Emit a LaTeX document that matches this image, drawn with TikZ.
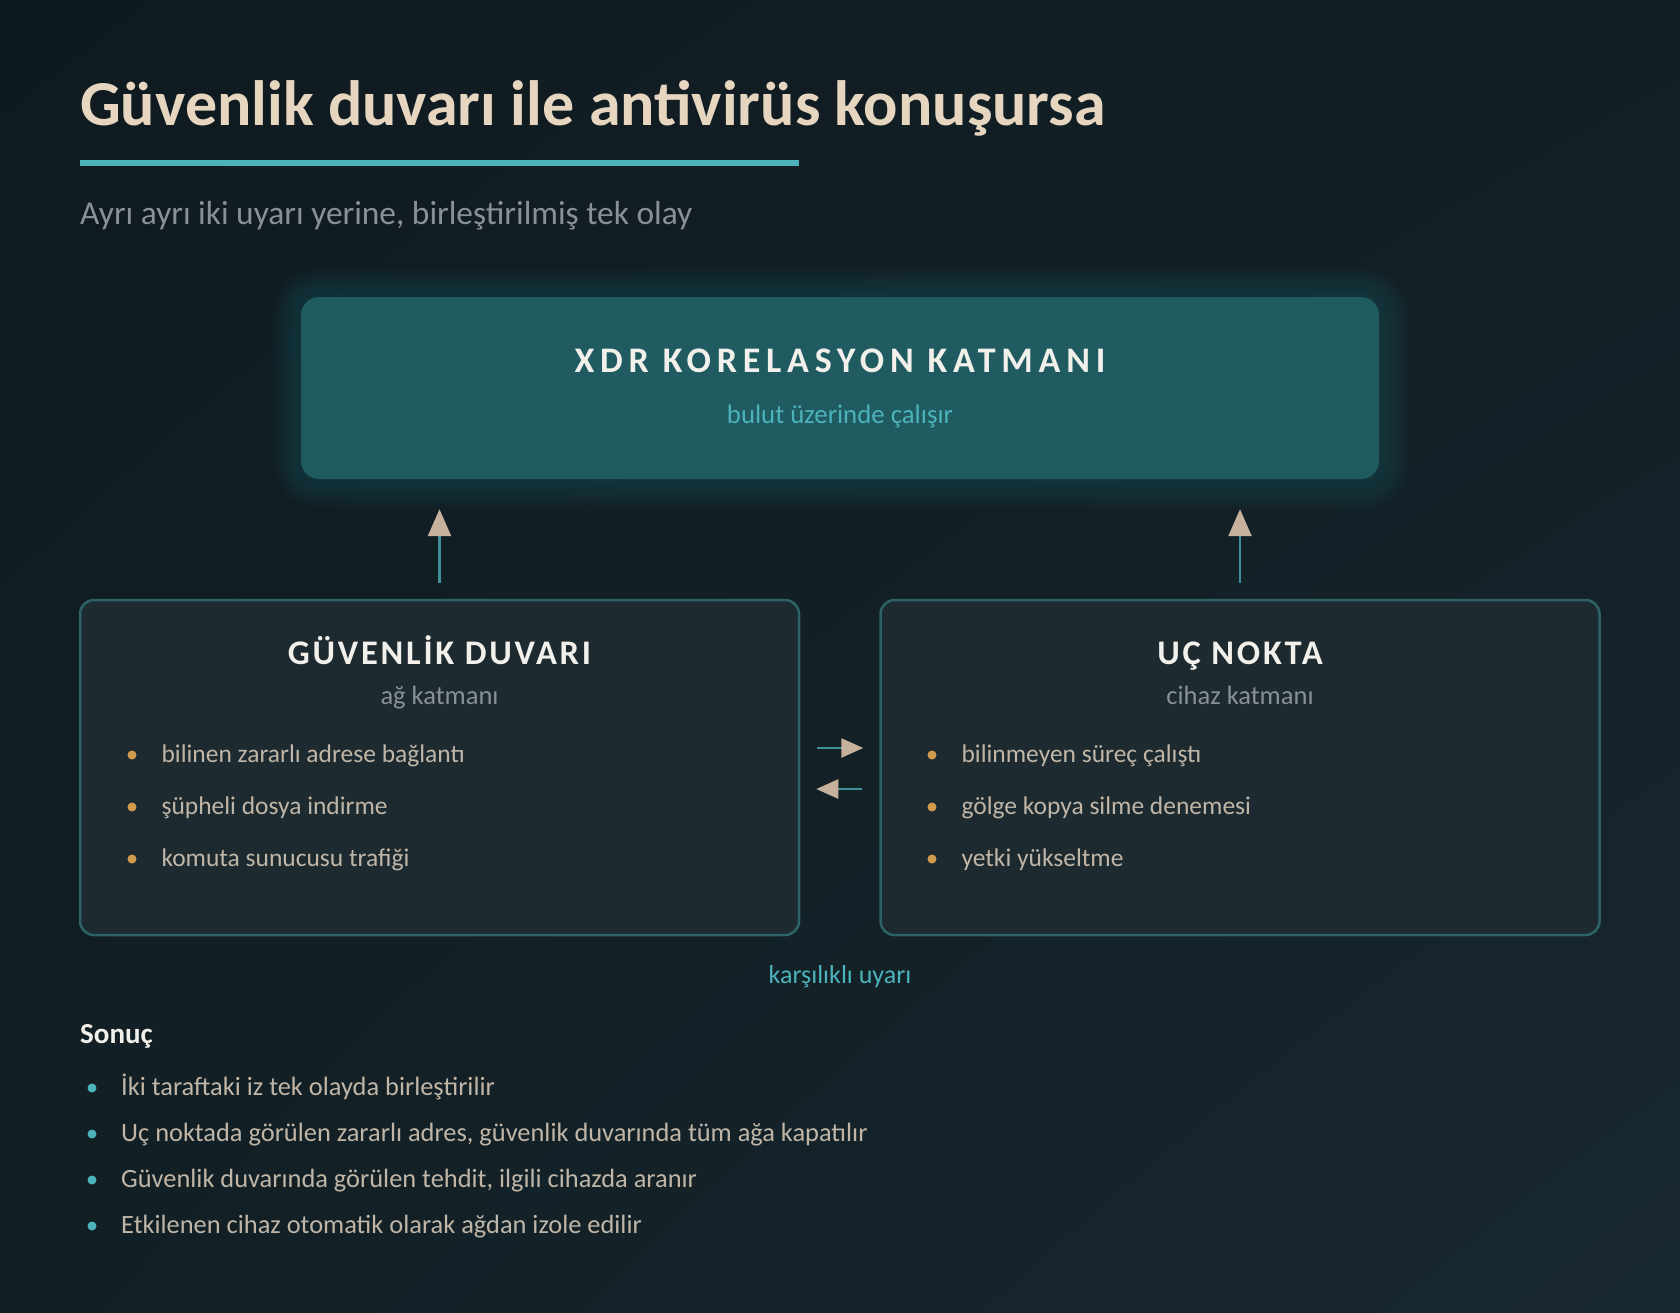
\documentclass[tikz,border=0pt]{standalone}
\usepackage{fontspec}
\setmainfont{Carlito}
\newfontfamily\wideface[LetterSpace=16]{Carlito}
\newfontfamily\headface[LetterSpace=8]{Carlito}
\usetikzlibrary{arrows.meta,shadings}
\definecolor{bgtl}{HTML}{0F1A20}
\definecolor{bgbr}{HTML}{17282E}
\definecolor{titlec}{HTML}{E6D6C0}
\definecolor{tealc}{HTML}{4DB3BB}
\definecolor{subc}{HTML}{8A9194}
\definecolor{xdrfill}{HTML}{1F5B61}
\definecolor{glowc}{HTML}{2C8088}
\definecolor{boxfill}{HTML}{1D2A30}
\definecolor{boxline}{HTML}{2D6267}
\definecolor{whitec}{HTML}{F2F0EA}
\definecolor{itemc}{HTML}{C0B6A7}
\definecolor{dotor}{HTML}{D49A4E}
\definecolor{linec}{HTML}{3F9098}
\definecolor{tipc}{HTML}{C6B29C}
\begin{document}
\begin{tikzpicture}[x=1pt,y=-1pt,
  sidebox/.style={draw=boxline, line width=2.5pt, fill=boxfill, rounded corners=14pt, minimum width=719pt, minimum height=335pt},
  xdrbox/.style={fill=xdrfill, rounded corners=18pt, minimum width=1078pt, minimum height=182pt},
  boxhead/.style={anchor=base, text=whitec, font=\headface\bfseries\fontsize{34.5}{41}\selectfont},
  boxsub/.style={anchor=base, text=subc, font=\fontsize{26.5}{32}\selectfont},
  itemtext/.style={anchor=base west, text=itemc, font=\fontsize{25.5}{31}\selectfont},
  uparrow/.style={draw=linec, line width=2.5pt, -{Triangle[length=27pt,width=23pt,color=tipc]}, shorten <=16pt, shorten >=30pt},
  sidearrow/.style={draw=linec, line width=2.5pt, -{Triangle[length=22pt,width=19pt,color=tipc]}, shorten <=17pt, shorten >=16pt}]
\useasboundingbox (0,0) rectangle (1680,1312);
\shade[upper left=bgtl, upper right=bgtl!60!bgbr, lower left=bgtl!60!bgbr, lower right=bgbr] (0,0) rectangle (1680,1312);

% heading
\node[anchor=base west, inner sep=0pt, text=titlec, font=\bfseries\fontsize{64}{72}\selectfont] (title) at (80,125) {Güvenlik duvarı ile antivirüs konuşursa};
\fill[tealc] (80,160) rectangle (799,166);
\node[anchor=base west, inner sep=0pt, text=subc, font=\fontsize{33.4}{40}\selectfont] (subtitle) at (80,224) {Ayrı ayrı iki uyarı yerine, birleştirilmiş tek olay};

% xdr layer
\foreach \g [evaluate=\g as \r using 18+2.5*\g] in {1,...,12}
  \fill[glowc, opacity=0.024, rounded corners=\r pt] (301-2.5*\g,297-2.5*\g) rectangle (1379+2.5*\g,479+2.5*\g);
\node[xdrbox] (xdr) at (840,388) {};
\node[anchor=base, text=whitec, font=\wideface\bfseries\fontsize{36}{42}\selectfont] (xdrtitle) at (840,372) {XDR KORELASYON KATMANI};
\node[anchor=base, text=tealc, font=\fontsize{26.8}{32}\selectfont] (xdrsub) at (840,423) {bulut üzerinde çalışır};

% the two sides
\node[sidebox] (fw) at (439.5,767.5) {};
\node[sidebox] (ep) at (1240,767.5) {};
\node[boxhead] (fwhead) at (439.5,664) {GÜVENLİK DUVARI};
\node[boxsub] (fwsub) at (439.5,704) {ağ katmanı};
\node[boxhead] (ephead) at (1240,664) {UÇ NOKTA};
\node[boxsub] (epsub) at (1240,704) {cihaz katmanı};

\foreach \t [count=\i] in {bilinen zararlı adrese bağlantı, şüpheli dosya indirme, komuta sunucusu trafiği}{
  \node[itemtext] (fw\i) at (158,762+52*\i-52) {\t};
  \fill[dotor] ([xshift=-26pt,yshift=7pt]fw\i.base west) circle (4.5pt);
}
\foreach \t [count=\i] in {bilinmeyen süreç çalıştı, gölge kopya silme denemesi, yetki yükseltme}{
  \node[itemtext] (ep\i) at (958,762+52*\i-52) {\t};
  \fill[dotor] ([xshift=-26pt,yshift=7pt]ep\i.base west) circle (4.5pt);
}

% connectors
\draw[uparrow] (fw.north) -- (fw.north |- xdr.south);
\draw[uparrow] (ep.north) -- (ep.north |- xdr.south);
\draw[sidearrow] ([yshift=19.5pt]fw.east) -- ([yshift=19.5pt]ep.west);
\draw[sidearrow] ([yshift=-21.5pt]ep.west) -- ([yshift=-21.5pt]fw.east);
\node[anchor=base, text=tealc, font=\fontsize{26}{31}\selectfont] (mutual) at (840,983) {karşılıklı uyarı};

% result
\node[anchor=base west, inner sep=0pt, text=whitec, font=\bfseries\fontsize{29}{35}\selectfont] (result) at (80,1043) {Sonuç};
\foreach \t [count=\i] in {İki taraftaki iz tek olayda birleştirilir, {Uç noktada görülen zararlı adres, güvenlik duvarında tüm ağa kapatılır}, {Güvenlik duvarında görülen tehdit, ilgili cihazda aranır}, Etkilenen cihaz otomatik olarak ağdan izole edilir}{
  \node[itemtext, inner sep=0pt, font=\fontsize{26.4}{32}\selectfont] (res\i) at (121,1095+46*\i-46) {\t};
  \fill[tealc] ([xshift=-29pt,yshift=7pt]res\i.base west) circle (4.5pt);
}
\end{tikzpicture}
\end{document}
